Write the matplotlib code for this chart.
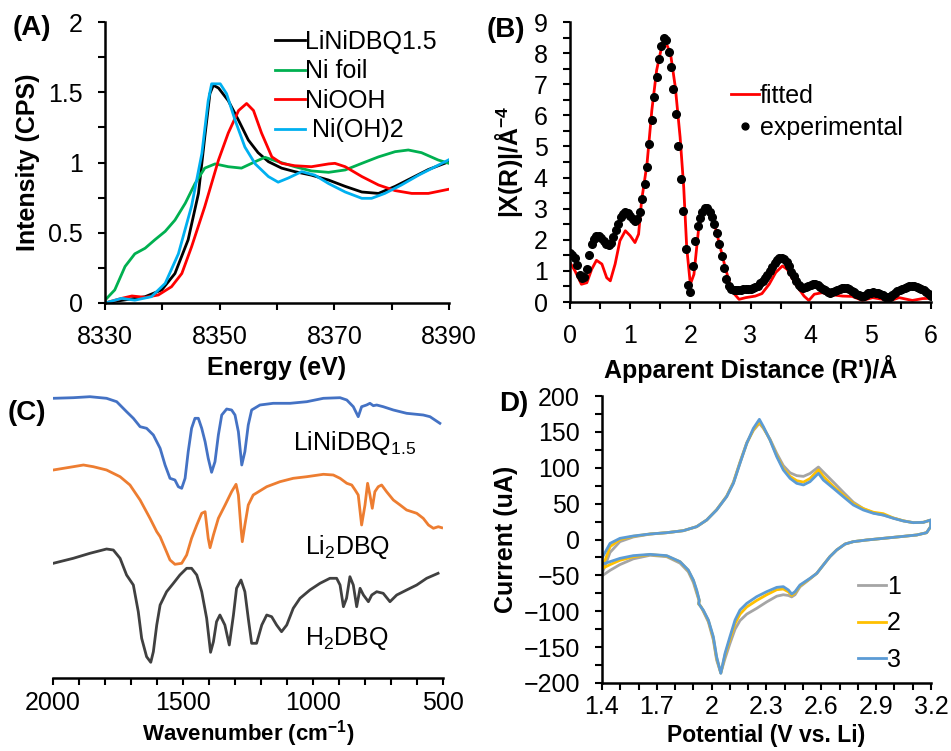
import matplotlib.pyplot as plt
import numpy as np
from matplotlib.ticker import MultipleLocator

plt.rcParams['font.family'] = ['Liberation Sans', 'DejaVu Sans']
plt.rcParams['mathtext.fontset'] = 'custom'
plt.rcParams['mathtext.rm'] = 'Liberation Sans'
plt.rcParams['mathtext.it'] = 'Liberation Sans:italic'
plt.rcParams['mathtext.bf'] = 'Liberation Sans:bold'

FS = 18
LW = 2.0

# ---------------- (A) XANES ----------------
e_lini = [8330, 8334.1, 8337, 8339.9, 8342.2, 8344.5, 8346.3, 8347.4, 8348.3, 8348.9, 8349.8,
          8351.5, 8353.3, 8355, 8356.7, 8358.5, 8360.8, 8363.1, 8366, 8369, 8371.9, 8374.8,
          8377.7, 8380.6, 8383.5, 8386.4, 8390]
i_lini = [0.0, 0.026, 0.045, 0.093, 0.21, 0.45, 0.78, 1.18, 1.49, 1.55, 1.53,
          1.44, 1.30, 1.16, 1.07, 1.006, 0.96, 0.935, 0.91, 0.875, 0.83, 0.79,
          0.78, 0.83, 0.89, 0.95, 1.006]

e_foil = [8330, 8331.7, 8333.5, 8335.2, 8337, 8338.7, 8340.5, 8342.2, 8344, 8345.7, 8347.4,
          8349.2, 8351.5, 8353.8, 8356.2, 8357.9, 8360.2, 8363.1, 8366, 8369, 8371.9,
          8374.8, 8377.7, 8380.6, 8382.9, 8385.2, 8388.1, 8390]
i_foil = [0.02, 0.093, 0.26, 0.35, 0.39, 0.45, 0.51, 0.59, 0.71, 0.85, 0.96,
          0.99, 0.97, 0.96, 1.006, 1.037, 1.006, 0.97, 0.94, 0.93, 0.947,
          0.994, 1.04, 1.077, 1.089, 1.07, 1.018, 0.994]

e_niooh = [8330, 8332.9, 8334.7, 8337, 8339.3, 8341.6, 8343.4, 8345.1, 8347.4, 8349.8, 8351.5,
           8353.3, 8354.7, 8355.9, 8357.3, 8359.1, 8360.8, 8363.1, 8366, 8369, 8370.1,
           8371.9, 8374.8, 8377.7, 8380.6, 8383.5, 8386.4, 8390]
i_niooh = [0.0, 0.033, 0.05, 0.04, 0.057, 0.116, 0.21, 0.40, 0.686, 1.018, 1.21,
           1.37, 1.42, 1.37, 1.21, 1.04, 0.994, 0.977, 0.97, 0.99, 0.994,
           0.97, 0.90, 0.84, 0.80, 0.78, 0.78, 0.81]

e_nioh2 = [8330, 8332.9, 8335.2, 8338.1, 8340.5, 8342.8, 8345.1, 8346.9, 8348, 8348.6, 8350.1,
           8351.2, 8352.7, 8354.4, 8356.2, 8358.5, 8360.2, 8362, 8364.3, 8366.6, 8369,
           8371.9, 8374.8, 8376.5, 8378.8, 8381.7, 8384.7, 8387.6, 8390]
i_nioh2 = [0.0, 0.033, 0.02, 0.045, 0.14, 0.35, 0.69, 1.065, 1.44, 1.56, 1.56,
           1.49, 1.30, 1.11, 0.99, 0.90, 0.86, 0.89, 0.935, 0.91, 0.85,
           0.79, 0.745, 0.745, 0.78, 0.84, 0.91, 0.97, 1.02]

# ---------------- (B) EXAFS ----------------
r_fit = [0, 0.083, 0.19, 0.28, 0.36, 0.44, 0.53, 0.61, 0.67, 0.75, 0.83, 0.92, 1.0, 1.08, 1.14,
         1.19, 1.28, 1.36, 1.44, 1.53, 1.58, 1.67, 1.75, 1.83, 1.89, 1.94, 2.0, 2.06, 2.14,
         2.22, 2.28, 2.36, 2.47, 2.58, 2.69, 2.81, 2.92, 3.08, 3.19, 3.31, 3.42, 3.53, 3.61,
         3.75, 3.89, 3.97, 4.06, 4.19, 4.36, 4.53, 4.69, 4.86, 5.03, 5.19, 5.33, 5.47, 5.69,
         5.86, 6.0]
x_fit = [1.27, 1.0, 0.57, 0.62, 1.05, 1.34, 1.22, 0.78, 0.68, 1.22, 1.97, 2.29, 2.13, 1.91, 2.18,
         3.26, 4.44, 6.16, 7.45, 8.26, 8.40, 7.99, 6.91, 5.30, 3.69, 1.75, 0.57, 0.89, 2.40,
         3.04, 3.10, 2.83, 1.97, 1.11, 0.35, 0.086, 0.14, 0.19, 0.27, 0.57, 0.95, 1.16, 1.05,
         0.57, 0.19, 0.05, 0.25, 0.30, 0.23, 0.19, 0.18, 0.05, 0.14, 0.09, 0.05, 0.14, 0.05,
         0.11, 0.12]

r_exp = np.linspace(0, 6, 151)
x_exp = [1.59, 1.52, 1.40, 1.18, 0.88, 0.76, 0.80, 1.05, 1.52, 1.85,
         2.04, 2.12, 2.12, 2.05, 1.96, 1.87, 1.82, 1.90, 2.08, 2.30,
         2.52, 2.72, 2.84, 2.89, 2.86, 2.77, 2.67, 2.61, 2.66, 2.88,
         3.30, 3.80, 4.33, 5.08, 5.84, 6.58, 7.24, 7.82, 8.24, 8.47,
         8.42, 8.05, 7.55, 6.85, 6.05, 5.00, 3.95, 2.92, 1.70, 0.55,
         0.32, 1.15, 1.97, 2.45, 2.70, 2.90, 3.03, 3.02, 2.90, 2.72,
         2.50, 2.22, 1.85, 1.47, 1.08, 0.75, 0.52, 0.43, 0.39, 0.38,
         0.39, 0.40, 0.41, 0.41, 0.42, 0.43, 0.45, 0.48, 0.53, 0.60,
         0.68, 0.77, 0.88, 1.00, 1.12, 1.24, 1.34, 1.42, 1.43, 1.37,
         1.28, 1.15, 0.98, 0.82, 0.68, 0.56, 0.48, 0.46, 0.48, 0.52,
         0.55, 0.57, 0.57, 0.54, 0.49, 0.43, 0.37, 0.32, 0.30, 0.32,
         0.36, 0.40, 0.43, 0.45, 0.46, 0.45, 0.41, 0.36, 0.31, 0.26,
         0.22, 0.19, 0.20, 0.24, 0.28, 0.30, 0.31, 0.30, 0.28, 0.25,
         0.21, 0.17, 0.15, 0.17, 0.22, 0.28, 0.34, 0.39, 0.43, 0.46,
         0.48, 0.50, 0.51, 0.51, 0.49, 0.46, 0.42, 0.37, 0.31, 0.25,
         0.19]

# ---------------- (C) FTIR (offset transmittance, a.u.) ----------------
w_lini = [1999, 1922, 1858, 1794, 1755, 1717, 1691, 1665, 1640, 1614, 1588, 1569, 1550, 1531,
          1518, 1505, 1492, 1480, 1467, 1454, 1441, 1428, 1415, 1403, 1390, 1377, 1364, 1351,
          1332, 1313, 1300, 1287, 1274, 1262, 1249, 1236, 1204, 1153, 1088, 1024, 960, 896,
          870, 845, 826, 813, 794, 781, 768, 755, 730, 691, 640, 576, 550, 531, 512]
t_lini = [2.797, 2.803, 2.813, 2.797, 2.763, 2.663, 2.597, 2.513, 2.497, 2.43, 2.297, 2.13, 1.997, 1.98,
          1.913, 1.897, 1.997, 2.263, 2.497, 2.597, 2.597, 2.497, 2.363, 2.197, 2.057, 2.163, 2.43, 2.63,
          2.69, 2.68, 2.63, 2.463, 2.13, 2.263, 2.53, 2.68, 2.73, 2.747, 2.747, 2.763, 2.797, 2.803,
          2.78, 2.713, 2.613, 2.713, 2.73, 2.747, 2.723, 2.73, 2.713, 2.68, 2.647, 2.63, 2.613, 2.58, 2.547]

w_li2 = [1999, 1922, 1883, 1845, 1794, 1742, 1704, 1665, 1627, 1601, 1588, 1569, 1550, 1531,
         1505, 1486, 1467, 1447, 1428, 1415, 1403, 1396, 1383, 1364, 1338, 1313, 1296, 1287,
         1277, 1272, 1262, 1249, 1230, 1178, 1127, 1076, 1024, 960, 922, 896, 870, 851, 838,
         826, 813, 800, 790, 781, 772, 762, 749, 736, 717, 691, 665, 640, 601, 576, 556, 537,
         518, 505]
t_li2 = [2.08, 2.113, 2.13, 2.113, 2.08, 2.013, 1.93, 1.78, 1.597, 1.463, 1.413, 1.297, 1.18, 1.137,
         1.147, 1.23, 1.397, 1.53, 1.647, 1.663, 1.397, 1.303, 1.43, 1.597, 1.73, 1.863, 1.937, 1.83,
         1.497, 1.363, 1.53, 1.73, 1.83, 1.913, 1.963, 1.997, 2.013, 2.037, 2.03, 1.997, 1.947, 1.93, 1.88,
         1.83, 1.53, 1.73, 1.947, 1.83, 1.697, 1.863, 1.913, 1.93, 1.863, 1.78, 1.73, 1.68, 1.647, 1.597, 1.53, 1.497,
         1.513, 1.503]

w_h2 = [1999, 1922, 1858, 1794, 1768, 1742, 1717, 1691, 1672, 1659, 1640, 1624, 1614, 1601,
        1588, 1563, 1537, 1512, 1486, 1467, 1447, 1428, 1409, 1394, 1383, 1371, 1358, 1339,
        1322, 1306, 1294, 1277, 1262, 1249, 1236, 1217, 1197, 1178, 1159, 1140, 1121, 1101,
        1076, 1050, 1012, 973, 935, 909, 896, 883, 871, 858, 845, 832, 819, 806, 787, 774,
        755, 730, 704, 678, 640, 601, 563, 519]
t_h2 = [1.147, 1.197, 1.247, 1.29, 1.28, 1.197, 1.03, 0.93, 0.663, 0.397, 0.213, 0.157, 0.263, 0.53,
        0.73, 0.863, 0.947, 1.03, 1.097, 1.097, 1.03, 0.863, 0.597, 0.257, 0.363, 0.563, 0.63, 0.53,
        0.33, 0.63, 0.897, 0.98, 0.863, 0.597, 0.347, 0.347, 0.53, 0.63, 0.613, 0.53, 0.463, 0.53,
        0.697, 0.797, 0.88, 0.947, 0.997, 0.997, 0.93, 0.713, 0.797, 1.013, 0.93, 0.713, 0.897, 0.83, 0.763, 0.83,
        0.863, 0.847, 0.763, 0.83, 0.88, 0.93, 0.997, 1.047]

# ---------------- (D) CV ----------------
v_cv = [1.404, 1.444, 1.498, 1.571, 1.663, 1.754, 1.845, 1.918, 1.973, 2.027, 2.082, 2.119, 2.155,
        2.192, 2.228, 2.261, 2.283, 2.319, 2.356, 2.392, 2.429, 2.465, 2.502, 2.538, 2.584, 2.611,
        2.666, 2.720, 2.775, 2.830, 2.885, 2.939, 2.994, 3.049, 3.103, 3.158, 3.198,
        3.198, 3.176, 3.122, 3.030, 2.939, 2.848, 2.775, 2.730, 2.684, 2.647, 2.611, 2.575, 2.538,
        2.483, 2.456, 2.438, 2.420, 2.392, 2.356, 2.301, 2.246, 2.192, 2.155, 2.128, 2.100, 2.073,
        2.050, 2.027, 2.009, 1.982, 1.954, 1.940, 1.929, 1.932, 1.918, 1.900, 1.872, 1.827, 1.754,
        1.663, 1.571, 1.498, 1.444, 1.404]
i_cv1 = [-45, -18, -3, 3.5, 7.5, 9.5, 12.3, 17.9, 27.2, 41.5, 60.5, 80, 108,
         135, 152, 162, 155, 140, 120, 103, 93, 89, 88, 92, 101, 94,
         80, 66, 52, 43, 37, 34, 30, 26, 23.5, 24, 27,
         18, 9.5, 6.3, 3.9, 1.6, -0.7, -3.0, -6.3, -14.6, -23.9, -35.5, -47.2, -55,
         -66, -77, -80, -78, -77, -79, -87, -96, -104, -113, -125, -145, -166,
         -186, -168, -140, -115, -100, -93, -90, -86, -75, -60, -45, -33, -24,
         -22, -27, -35, -43, -50]
i_cv2 = [-38, -10, 0, 4.5, 7.7, 9.5, 12.3, 17.9, 27.2, 41.3, 60, 79, 107,
         134, 153, 164, 156, 139, 117, 99, 88, 82, 80, 85, 97, 88,
         74, 62, 50, 43, 38, 36, 30, 26, 23.5, 24, 27,
         18, 9.5, 6.3, 3.9, 1.6, -0.7, -3.0, -6.3, -14.6, -23.9, -35.5, -47.2, -54.5,
         -64.5, -74, -78, -73, -69, -70, -77, -85, -94, -104, -117, -139, -161,
         -186, -165, -137, -113, -99, -93, -90, -85, -72, -57, -43, -31, -23,
         -21, -24, -29, -35, -40]
i_cv3 = [-24, -5.4, 1.6, 4.9, 7.7, 9.5, 12.3, 17.9, 27.2, 41.1, 59.7, 78.3, 106.2,
         134, 154.9, 167.5, 157.3, 138.7, 115.4, 96.9, 85.2, 78.3, 76.0, 80.6, 92.2, 82.9,
         71.3, 59.7, 48.1, 41.1, 36.5, 34.1, 29.5, 25.8, 23.5, 23.9, 27.2,
         17.9, 9.5, 6.3, 3.9, 1.6, -0.7, -3.0, -6.3, -14.6, -23.9, -35.5, -47.2, -54.1,
         -63.4, -72.7, -76.0, -70.4, -65.7, -66.7, -72.7, -79.7, -89.0, -98.3, -112.2, -135.4, -158.7,
         -186.5, -163.3, -135.4, -112.2, -98.3, -93.6, -89.0, -84.3, -70.4, -56.5, -42.5, -30.9, -22.5,
         -20.7, -22.5, -26.3, -30.9, -34.2]

W, H = 951, 751
fig = plt.figure(figsize=(W / 100, H / 100), dpi=100)


def add_ax(l, r, t, b):
    return fig.add_axes([l / W, 1 - b / H, (r - l) / W, (b - t) / H])


def style(ax, xpad=11):
    for s in ['top', 'right']:
        ax.spines[s].set_visible(False)
    for s in ['left', 'bottom']:
        ax.spines[s].set_linewidth(1.8)
    ax.tick_params(which='both', direction='out', length=5, width=1.5,
                   labelsize=FS, pad=11)
    ax.tick_params(axis='x', pad=xpad)


axA = add_ax(105, 449, 22, 303)
axB = add_ax(570, 931, 22, 302)
axC = add_ax(53, 443, 385, 678)
axD = add_ax(602, 931, 396, 683)

# (A)
axA.plot(e_lini, i_lini, color='black', lw=LW, label='LiNiDBQ1.5')
axA.plot(e_foil, i_foil, color='#00B050', lw=LW, label='Ni foil')
axA.plot(e_niooh, i_niooh, color='#FF0000', lw=LW, label='NiOOH')
axA.plot(e_nioh2, i_nioh2, color='#00B0F0', lw=LW, label=' Ni(OH)2')
axA.set_xlim(8330, 8390)
axA.set_ylim(0, 2)
axA.set_xticks([8330, 8350, 8370, 8390])
axA.xaxis.set_minor_locator(MultipleLocator(10))
axA.set_yticks([0, 0.5, 1, 1.5, 2], ['0', '0.5', '1', '1.5', '2'])
axA.yaxis.set_minor_locator(MultipleLocator(0.25))
style(axA)
axA.set_xlabel('Energy (eV)', fontsize=FS, fontweight='bold', labelpad=5)
axA.set_ylabel('Intensity (CPS)', fontsize=FS, fontweight='bold', labelpad=6)
axA.legend(loc='upper left', bbox_to_anchor=(275 / W, 1 - 30 / H), bbox_transform=fig.transFigure,
           frameon=False, fontsize=FS, handlelength=1.2, handletextpad=0.0,
           labelspacing=0.22, borderpad=0, borderaxespad=0)

# (B)
axB.plot(r_fit, x_fit, color='#FF0000', lw=LW, label='fitted')
axB.plot(r_exp, x_exp, 'o', color='black', ms=5.5, label='experimental')
axB.set_xlim(0, 6)
axB.set_ylim(0, 9)
axB.xaxis.set_major_locator(MultipleLocator(1))
axB.xaxis.set_minor_locator(MultipleLocator(0.5))
axB.yaxis.set_major_locator(MultipleLocator(1))
axB.yaxis.set_minor_locator(MultipleLocator(0.5))
style(axB)
axB.set_xlabel("Apparent Distance (R')/Å", fontsize=FS, fontweight='bold', labelpad=5)
axB.set_ylabel(r'|X(R)|/Å$^{\mathbf{-4}}$', fontsize=FS, fontweight='bold', labelpad=6)
axB.legend(loc='upper left', bbox_to_anchor=(731 / W, 1 - 84 / H), bbox_transform=fig.transFigure,
           frameon=False, fontsize=FS, handlelength=1.1, handletextpad=0.05,
           labelspacing=0.3, borderpad=0, borderaxespad=0, markerscale=0.9)

# (C)
axC.plot(w_lini, t_lini, color='#4472C4', lw=LW)
axC.plot(w_li2, t_li2, color='#ED7D31', lw=LW)
axC.plot(w_h2, t_h2, color='#404040', lw=LW)
axC.set_xlim(2000, 500)
axC.set_ylim(0, 2.93)
axC.xaxis.set_major_locator(MultipleLocator(500))
axC.xaxis.set_minor_locator(MultipleLocator(100))
style(axC, xpad=4)
axC.spines['left'].set_visible(False)
axC.set_yticks([])
axC.text(1077, 2.35, 'LiNiDBQ$_{1.5}$', fontsize=FS, ha='left', va='center')
axC.text(1031, 1.31, 'Li$_2$DBQ', fontsize=FS, ha='left', va='center')
axC.text(1031, 0.40, 'H$_2$DBQ', fontsize=FS, ha='left', va='center')
axC.set_xlabel(r'Wavenumber (cm$^{\mathbf{-1}}$)', fontsize=16, fontweight='bold')
axC.xaxis.set_label_coords(248 / W, 1 - 718 / H, transform=fig.transFigure)

# (D)
axD.plot(v_cv, i_cv1, color='#A5A5A5', lw=LW, label='1')
axD.plot(v_cv, i_cv2, color='#FFC000', lw=LW, label='2')
axD.plot(v_cv, i_cv3, color='#5B9BD5', lw=LW, label='3')
axD.set_xlim(1.4, 3.2)
axD.set_ylim(-200, 200)
axD.set_xticks([1.4, 1.7, 2.0, 2.3, 2.6, 2.9, 3.2], ['1.4', '1.7', '2', '2.3', '2.6', '2.9', '3.2'])
axD.xaxis.set_minor_locator(MultipleLocator(0.1))
axD.yaxis.set_major_locator(MultipleLocator(50))
axD.yaxis.set_minor_locator(MultipleLocator(25))
style(axD, xpad=4)
axD.set_xlabel('Potential (V vs. Li)', fontsize=16.5, fontweight='bold')
axD.xaxis.set_label_coords(766 / W, 1 - 724 / H, transform=fig.transFigure)
axD.set_ylabel('Current (uA)', fontsize=FS, fontweight='bold', labelpad=4)
axD.legend(loc='upper left', bbox_to_anchor=(858 / W, 1 - 575 / H), bbox_transform=fig.transFigure,
           frameon=False, fontsize=FS, handlelength=1.1, handletextpad=0.05,
           labelspacing=0.5, borderpad=0, borderaxespad=0)

# panel labels
fig.text(32 / W, 1 - 28 / H, '(A)', fontsize=20, fontweight='bold', ha='center', va='center')
fig.text(506 / W, 1 - 30 / H, '(B)', fontsize=20, fontweight='bold', ha='center', va='center')
fig.text(27 / W, 1 - 413 / H, '(C)', fontsize=20, fontweight='bold', ha='center', va='center')
fig.text(514 / W, 1 - 404 / H, 'D)', fontsize=20, fontweight='bold', ha='center', va='center')

fig.savefig('out.png', dpi=100)
